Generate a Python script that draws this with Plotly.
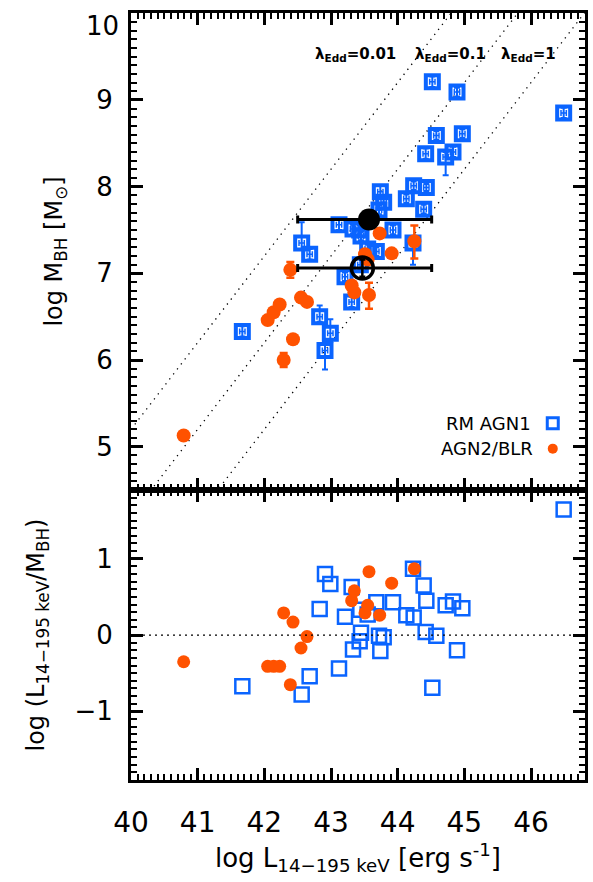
import plotly.graph_objects as go

# ---------------- data ----------------
# RM AGN1 (blue open squares)
rm_logL = [41.67, 42.56, 42.68, 42.83, 42.91, 42.99, 43.12, 43.21, 43.31, 43.33, 43.44,
           43.45, 43.43, 43.55, 43.68, 43.72, 43.79, 43.74, 43.93, 44.13, 44.24, 44.23,
           44.39, 44.42, 44.43, 44.52, 44.58, 44.72, 44.83, 44.89, 44.97, 46.49]
rm_logM = [6.33, 7.35, 7.22, 6.50, 6.11, 6.31, 7.56, 6.96, 6.67, 7.51, 7.10,
           7.43, 7.50, 7.28, 7.25, 7.73, 7.82, 7.94, 7.50, 7.86, 8.01, 7.35,
           7.74, 8.38, 7.99, 9.21, 8.59, 8.34, 8.40, 9.09, 8.61, 8.85]
rm_errM_hi = [0.06, 0.24, 0.06, 0.13, 0.10, 0.16, 0.06, 0.05, 0.06, 0.05, 0.06,
              0.05, 0.05, 0.05, 0.05, 0.05, 0.06, 0.07, 0.05, 0.05, 0.05, 0.06,
              0.05, 0.06, 0.04, 0.06, 0.05, 0.06, 0.06, 0.05, 0.05, 0.06]
rm_errM_lo = [0.06, 0.08, 0.06, 0.06, 0.22, 0.10, 0.06, 0.05, 0.06, 0.05, 0.06,
              0.05, 0.05, 0.05, 0.05, 0.05, 0.06, 0.07, 0.05, 0.05, 0.05, 0.25,
              0.05, 0.06, 0.04, 0.06, 0.05, 0.21, 0.06, 0.05, 0.05, 0.06]
rm_errL = [0.04] * 32
rm_ratio = [-0.67, -0.78, -0.54, 0.34, 0.80, 0.67, -0.44, 0.24, 0.63, -0.19, 0.33,
            0.03, -0.08, 0.27, 0.43, -0.01, -0.03, -0.21, 0.43, 0.26, 0.23, 0.87,
            0.65, 0.04, 0.45, -0.69, -0.01, 0.39, 0.44, -0.20, 0.35, 1.645]

# AGN2 / BLR (orange filled circles)
blr_logL = [40.79, 42.05, 42.14, 42.23, 42.29, 42.39, 42.43, 42.55, 42.64,
            43.31, 43.35, 43.51, 43.55, 43.57, 43.73, 43.91, 44.25]
blr_logM = [5.13, 6.46, 6.55, 6.64, 6.00, 7.04, 6.24, 6.72, 6.67,
            6.86, 6.78, 7.22, 7.16, 6.75, 7.46, 7.23, 7.37]
blr_err_hi = [0, 0, 0, 0, 0.08, 0.09, 0, 0, 0, 0, 0, 0, 0, 0.14, 0, 0, 0.18]
blr_err_lo = [0, 0, 0, 0, 0.08, 0.09, 0, 0, 0, 0, 0, 0, 0, 0.16, 0, 0, 0.20]
blr_ratio = [-0.35, -0.41, -0.41, -0.41, 0.29, -0.65, 0.17, -0.17, -0.02,
             0.45, 0.58, 0.29, 0.39, 0.83, 0.26, 0.68, 0.87]

# averages (black circles)
avg_logL = [43.57, 43.47]
avg_logM = [7.62, 7.06]
avg_xlo = [1.07, 0.97]
avg_xhi = [0.94, 1.04]

# Eddington ratio lines: log M = log L + offset
edd_offsets = [-34.8, -35.8, -36.8]
edd_labels = ["0.01", "0.1", "1"]
edd_label_x = [43.36, 44.79, 45.96]
edd_label_y = 9.52

x_range = [40, 46.81]
top_range = [4.5, 10.002]
bot_range = [-1.9, 1.9]
top_label_value = 10

BLUE = "#0A64FF"
ORANGE = "#FF5200"
FONT = "DejaVu Sans"

fig = go.Figure()

# Eddington lines (top panel)
for off in edd_offsets:
    fig.add_trace(go.Scatter(x=x_range, y=[x_range[0] + off, x_range[1] + off],
                             mode="lines", line=dict(color="black", width=1.3, dash="1.3px,5px"),
                             xaxis="x2", yaxis="y", showlegend=False, hoverinfo="skip"))

# top panel: RM AGN1
fig.add_trace(go.Scatter(
    x=rm_logL, y=rm_logM, mode="markers", xaxis="x2", yaxis="y", showlegend=False,
    marker=dict(symbol="square-open", size=13, color=BLUE, line=dict(width=4, color=BLUE)),
    error_y=dict(type="data", symmetric=False, array=rm_errM_hi, arrayminus=rm_errM_lo,
                 color=BLUE, thickness=2, width=3),
    error_x=dict(type="data", array=rm_errL, color=BLUE, thickness=1.5, width=3)))

# top panel: AGN2/BLR
fig.add_trace(go.Scatter(
    x=blr_logL, y=blr_logM, mode="markers", xaxis="x2", yaxis="y", showlegend=False,
    marker=dict(symbol="circle", size=14, color=ORANGE),
    error_y=dict(type="data", symmetric=False, array=blr_err_hi, arrayminus=blr_err_lo,
                 color=ORANGE, thickness=2.5, width=4)))

# top panel: averages
fig.add_trace(go.Scatter(
    x=[avg_logL[0]], y=[avg_logM[0]], mode="markers", xaxis="x2", yaxis="y", showlegend=False,
    marker=dict(symbol="circle", size=22, color="black"),
    error_x=dict(type="data", symmetric=False, array=[avg_xhi[0]], arrayminus=[avg_xlo[0]],
                 color="black", thickness=3, width=4)))
fig.add_trace(go.Scatter(
    x=[avg_logL[1]], y=[avg_logM[1]], mode="markers", xaxis="x2", yaxis="y", showlegend=False,
    marker=dict(symbol="circle-open", size=22, color="black", line=dict(width=3.5, color="black")),
    error_x=dict(type="data", symmetric=False, array=[avg_xhi[1]], arrayminus=[avg_xlo[1]],
                 color="black", thickness=3, width=4),
    error_y=dict(type="data", array=[0.1], color="black", thickness=2.5, width=3)))

# bottom panel
fig.add_trace(go.Scatter(
    x=rm_logL, y=rm_ratio, mode="markers", xaxis="x", yaxis="y2", showlegend=False,
    marker=dict(symbol="square-open", size=14, color=BLUE, line=dict(width=2.5, color=BLUE))))
fig.add_trace(go.Scatter(
    x=blr_logL, y=blr_ratio, mode="markers", xaxis="x", yaxis="y2", showlegend=False,
    marker=dict(symbol="circle", size=13, color=ORANGE)))

axis_common = dict(showline=True, linewidth=3, linecolor="black", mirror="allticks",
                   ticks="inside", ticklen=12, tickwidth=2.5, tickcolor="black",
                   showgrid=False, zeroline=False, automargin=False,
                   minor=dict(ticks="inside", ticklen=6, tickwidth=2, tickcolor="black", dtick=0.1,
                              showgrid=False))

split = 0.378
fig.update_layout(
    width=593, height=882,
    margin=dict(l=131, r=8, t=13, b=102),
    paper_bgcolor="white", plot_bgcolor="white",
    font=dict(family=FONT, color="black"),
    xaxis=dict(domain=[0, 1], anchor="y2", range=x_range, dtick=1, tick0=0,
               tickfont=dict(size=28), ticklabelstandoff=15,
               title=dict(text="log L<sub>14−195 keV</sub> [erg s<sup>-1</sup>]",
                          font=dict(size=26), standoff=4),
               **axis_common),
    xaxis2=dict(domain=[0, 1], anchor="y", matches="x", range=x_range, dtick=1, tick0=0,
                showticklabels=False, **axis_common),
    yaxis=dict(domain=[split, 1], anchor="x2", range=top_range, dtick=1, tick0=0,
               tickfont=dict(size=26), ticklabelstandoff=10, labelalias={"10": ""},
               title=dict(text="log M<sub>BH</sub> [M<sub>⊙</sub>]", font=dict(size=24), standoff=27),
               **axis_common),
    yaxis2=dict(domain=[0, split], anchor="x", range=bot_range, dtick=1, tick0=0,
                tickfont=dict(size=26), ticklabelstandoff=10,
                title=dict(text="log (L<sub>14−195 keV</sub>/M<sub>BH</sub>)", font=dict(size=24), standoff=24),
                **axis_common),
)

# "10" label kept inside the page (sits just below its tick, as in the original)
fig.add_annotation(x=0, y=top_label_value, xref="paper", yref="y", xanchor="right", yanchor="top",
                   xshift=-10, yshift=4, text=str(top_label_value), showarrow=False,
                   font=dict(size=26, family=FONT, color="black"))

# zero line bottom panel
fig.add_shape(type="line", xref="x", yref="y2", x0=x_range[0], x1=x_range[1], y0=0, y1=0,
              line=dict(color="black", width=1.2, dash="2px,4px"))

# Eddington labels
for lab, lx in zip(edd_labels, edd_label_x):
    fig.add_annotation(x=lx, y=edd_label_y, xref="x2", yref="y",
                       text="<b>λ<sub>Edd</sub>=" + lab + "</b>", showarrow=False,
                       font=dict(size=15, family=FONT, color="black"))

# legend (text right-aligned, symbol on right)
fig.add_annotation(x=0.885, y=0.465, xref="paper", yref="paper", xanchor="right", yanchor="middle",
                   text="RM AGN1", showarrow=False, font=dict(size=18, family=FONT))
fig.add_annotation(x=0.890, y=0.432, xref="paper", yref="paper", xanchor="right", yanchor="middle",
                   text="AGN2/BLR", showarrow=False, font=dict(size=18, family=FONT))
fig.add_shape(type="rect", xref="paper", yref="paper", xsizemode="pixel", ysizemode="pixel",
              xanchor=0.929, yanchor=0.465, x0=-5.5, x1=5.5, y0=-5.5, y1=5.5,
              line=dict(color=BLUE, width=3))
fig.add_shape(type="circle", xref="paper", yref="paper", xsizemode="pixel", ysizemode="pixel",
              xanchor=0.929, yanchor=0.432, x0=-5, x1=5, y0=-5, y1=5,
              line=dict(color=ORANGE, width=0), fillcolor=ORANGE)

fig.write_html("out.html", config={"displayModeBar": False},
               post_script="document.body.style.margin='0';")
